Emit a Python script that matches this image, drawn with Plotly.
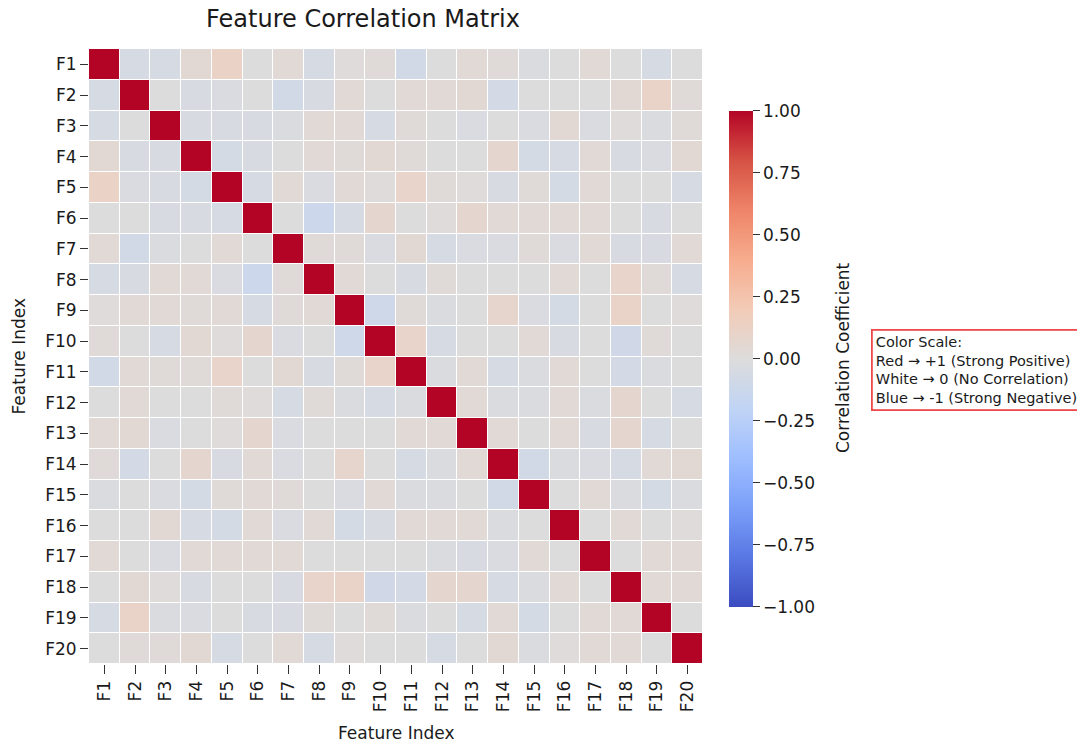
import plotly.graph_objects as go

features = ["F1", "F2", "F3", "F4", "F5", "F6", "F7", "F8", "F9", "F10",
            "F11", "F12", "F13", "F14", "F15", "F16", "F17", "F18", "F19", "F20"]

# upper-triangle correlations (row Fi, columns F(i+1)..F20)
upper_F1 = [-0.05, -0.05, 0.05, 0.12, 0.00, 0.04, -0.05, 0.01, 0.02, -0.08, 0.00, 0.03, 0.02, -0.02, -0.01, 0.04, 0.00, -0.05, 0.00]
upper_F2 = [0.00, -0.04, -0.03, -0.01, -0.08, -0.04, 0.04, -0.01, 0.04, 0.03, 0.05, -0.07, 0.00, -0.01, 0.00, 0.05, 0.11, 0.02]
upper_F3 = [-0.04, -0.04, -0.04, -0.02, 0.04, 0.03, -0.05, 0.02, 0.00, -0.03, 0.00, -0.03, 0.05, -0.03, 0.01, -0.02, 0.02]
upper_F4 = [-0.06, -0.04, -0.01, 0.04, 0.02, 0.05, 0.02, 0.00, 0.00, 0.07, -0.06, -0.05, 0.03, -0.04, -0.03, 0.05]
upper_F5 = [-0.05, 0.04, -0.03, 0.03, 0.01, 0.10, 0.02, 0.01, -0.04, 0.02, -0.06, 0.04, 0.00, -0.01, -0.05]
upper_F6 = [0.00, -0.12, -0.05, 0.07, 0.00, 0.01, 0.07, 0.04, 0.04, 0.03, 0.03, 0.00, -0.04, 0.00]
upper_F7 = [0.02, 0.02, -0.03, 0.05, -0.05, -0.03, -0.03, 0.02, -0.03, 0.04, -0.04, -0.04, 0.04]
upper_F8 = [0.03, -0.01, -0.04, 0.02, 0.00, 0.00, 0.00, 0.03, 0.00, 0.10, 0.02, -0.05]
upper_F9 = [-0.10, 0.02, -0.02, 0.00, 0.08, -0.03, -0.06, 0.00, 0.11, 0.00, 0.01]
upper_F10 = [0.10, -0.05, 0.00, 0.00, 0.03, -0.04, 0.00, -0.09, 0.02, 0.00]
upper_F11 = [-0.02, 0.03, -0.05, -0.02, 0.03, 0.00, -0.07, -0.02, 0.00]
upper_F12 = [0.03, -0.02, -0.02, 0.03, -0.02, 0.07, 0.00, -0.05]
upper_F13 = [0.03, 0.00, 0.03, -0.04, 0.07, -0.05, 0.00]
upper_F14 = [-0.08, -0.02, -0.03, -0.05, 0.03, 0.05]
upper_F15 = [0.00, 0.03, -0.02, -0.06, -0.02]
upper_F16 = [0.00, 0.03, 0.00, 0.01]
upper_F17 = [0.00, 0.03, 0.04]
upper_F18 = [0.03, 0.04]
upper_F19 = [0.00]

cbar_tickvals = [1.0, 0.75, 0.5, 0.25, 0.0, -0.25, -0.5, -0.75, -1.0]
cbar_ticktext = ["1.00", "0.75", "0.50", "0.25", "0.00", "\u22120.25", "\u22120.50", "\u22120.75", "\u22121.00"]

uppers = [upper_F1, upper_F2, upper_F3, upper_F4, upper_F5, upper_F6, upper_F7,
          upper_F8, upper_F9, upper_F10, upper_F11, upper_F12, upper_F13, upper_F14,
          upper_F15, upper_F16, upper_F17, upper_F18, upper_F19, []]

n = len(features)
corr = [[1.0] * n for _ in range(n)]
for i, row in enumerate(uppers):
    for k, v in enumerate(row):
        j = i + 1 + k
        corr[i][j] = v
        corr[j][i] = v

coolwarm = [
    [0.0, "#3b4cc0"], [0.1, "#5977e3"], [0.2, "#7b9ff9"], [0.3, "#9ebeff"],
    [0.4, "#c0d4f5"], [0.5, "#dddcdc"], [0.6, "#f2cbb7"], [0.7, "#f7ac8e"],
    [0.8, "#ee8468"], [0.9, "#d65244"], [1.0, "#b40426"],
]

FONT = "DejaVu Sans"
TXT = "#1a1a1a"

fig = go.Figure(go.Heatmap(
    z=corr, x=features, y=features,
    zmin=-1, zmax=1, colorscale=coolwarm,
    xgap=1, ygap=1,
    colorbar=dict(
        thickness=24, thicknessmode="pixels",
        len=496, lenmode="pixels",
        x=1.0423, xanchor="left", xpad=0,
        y=0.496, yanchor="middle", ypad=0,
        outlinewidth=0,
        tickmode="array", tickvals=cbar_tickvals, ticktext=cbar_ticktext,
        ticks="outside", ticklen=7, tickwidth=1.3, tickcolor="#333",
        tickfont=dict(family=FONT, size=17, color=TXT),
    ),
    hovertemplate="%{y} vs %{x}: %{z:.2f}<extra></extra>",
))

W, H = 1077, 748
L, R, T, B = 89, 703, 49, 664

def px_x(p):
    return (p - L) / (R - L)

def px_y(p):
    return (B - p) / (B - T)

fig.update_layout(
    width=W, height=H,
    margin=dict(l=L, r=W - R, t=T, b=H - B, pad=0),
    paper_bgcolor="white", plot_bgcolor="white",
    font=dict(family=FONT, size=17, color=TXT),
    title=dict(text="Feature Correlation Matrix", x=363 / W, xref="container", xanchor="center",
               y=1 - 19 / H, yref="container", yanchor="middle",
               font=dict(family=FONT, size=24, color=TXT)),
    xaxis=dict(type="category", showgrid=False, zeroline=False, showline=False,
               ticks="outside", ticklen=9, tickwidth=1.3, tickcolor="#333",
               tickangle=-90, tickfont=dict(family=FONT, size=17, color=TXT),
               range=[-0.5, n - 0.5]),
    yaxis=dict(type="category", showgrid=False, zeroline=False, showline=False,
               ticks="outside", ticklen=8, tickwidth=1.3, tickcolor="#333",
               tickfont=dict(family=FONT, size=17, color=TXT),
               range=[n - 0.5, -0.5]),
    annotations=[
        dict(text="Feature Index", xref="paper", yref="paper", x=0.5, y=px_y(733),
             xanchor="center", yanchor="middle", showarrow=False,
             font=dict(family=FONT, size=17, color=TXT)),
        dict(text="Feature Index", xref="paper", yref="paper", x=px_x(18), y=0.5,
             xanchor="center", yanchor="middle", textangle=-90, showarrow=False,
             font=dict(family=FONT, size=17, color=TXT)),
        dict(text="Correlation Coefficient", xref="paper", yref="paper", x=px_x(843), y=px_y(358),
             xanchor="center", yanchor="middle", textangle=-90, showarrow=False,
             font=dict(family=FONT, size=17, color=TXT)),
        dict(text="Color Scale:<br>Red \u2192 +1 (Strong Positive)<br>White \u2192 0 (No Correlation)<br>Blue \u2192 -1 (Strong Negative)",
             xref="paper", yref="paper", x=px_x(871), y=px_y(329),
             xanchor="left", yanchor="top", align="left", showarrow=False,
             bordercolor="rgba(235,40,40,0.85)", borderwidth=1.8, borderpad=3,
             bgcolor="white",
             font=dict(family=FONT, size=14.5, color=TXT)),
    ],
)

fig.write_html("out.html", config={"displayModeBar": False},
               post_script="document.body.style.margin='0px';document.body.style.overflow='hidden';")
